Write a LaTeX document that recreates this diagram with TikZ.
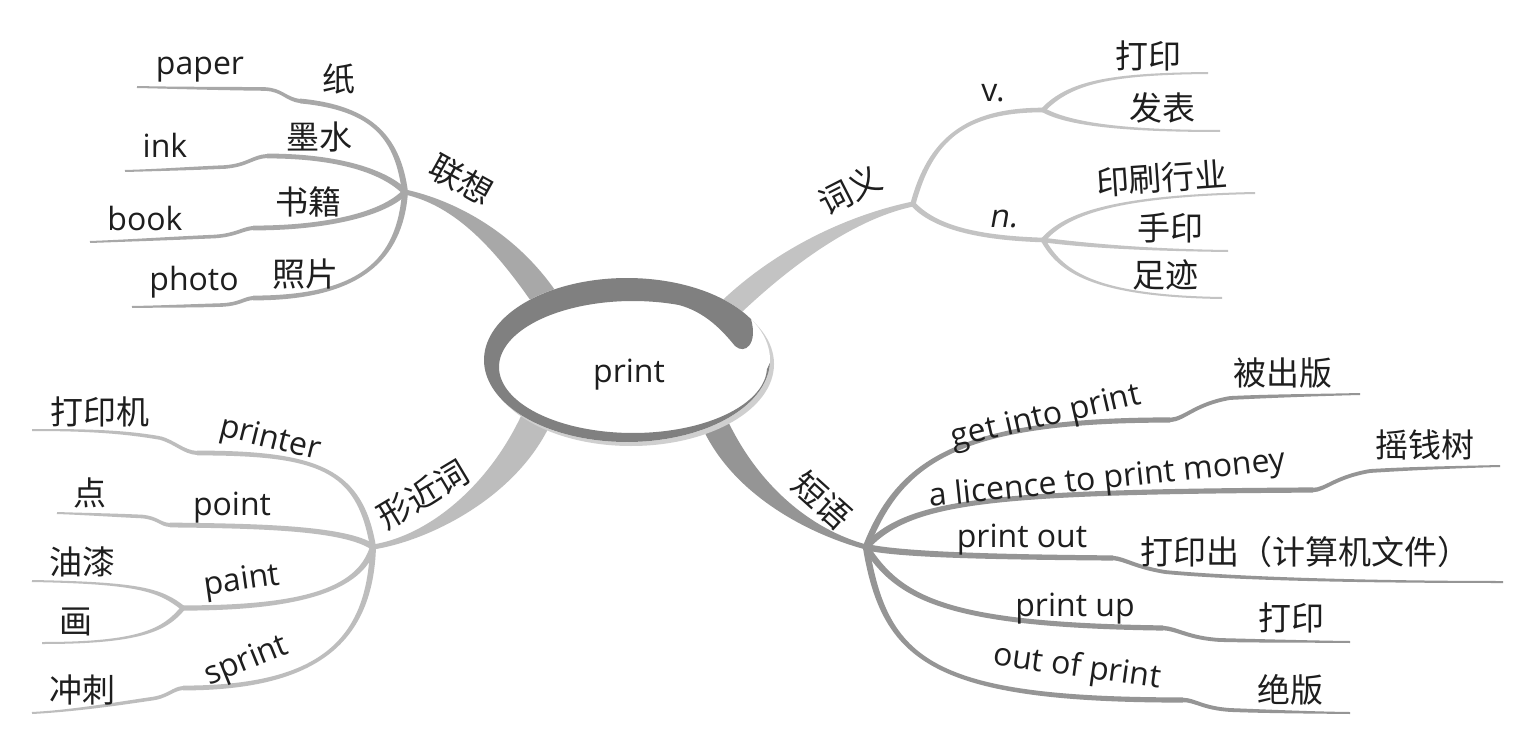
\documentclass[tikz,border=0pt]{standalone}
\usepackage{fontspec}
\setmainfont{Open Sans}
\newfontfamily\cjk{Noto Sans CJK SC}
\newfontfamily\slantfont[FakeSlant=0.18]{Open Sans}
\usetikzlibrary{calc}
\definecolor{txt}{HTML}{1E1E1E}
\definecolor{ringc}{HTML}{808080}
\definecolor{tlc}{HTML}{A8A8A8}
\definecolor{trc}{HTML}{C3C3C3}
\definecolor{blc}{HTML}{BDBDBD}
\definecolor{brc}{HTML}{959595}
\definecolor{lipc}{HTML}{CFCFCF}
% tapered cubic: colour, P0, P1, P2, P3, half width at P0, half width at P3
\newcommand\taper[7]{%
  \fill[#1] ($(#2)!#6!90:(#3)$) .. controls ($(#3)!#6!-90:(#2)$) and ($(#4)!#7!90:(#5)$) .. ($(#5)!#7!-90:(#4)$)
   -- ($(#5)!#7!90:(#4)$) .. controls ($(#4)!#7!-90:(#5)$) and ($(#3)!#6!90:(#2)$) .. ($(#2)!#6!-90:(#3)$) -- cycle;}
\begin{document}
\begin{tikzpicture}[x=1pt,y=-1pt,
  en/.style={font=\fontsize{32}{32}\selectfont, text=txt, inner sep=0pt},
  zh/.style={font=\cjk\fontsize{33}{33}\selectfont, text=txt, inner sep=0pt}]
\useasboundingbox (0,0) rectangle (1525,746);
\fill[white] (0,0) rectangle (1525,746);
% hubs
\coordinate (H1) at (405,192);
\coordinate (H2) at (913,204);
\coordinate (H3) at (373,547);
\coordinate (H4) at (866,547);
\coordinate (V) at (1043,110);
\coordinate (N) at (1043,240);
\coordinate (P) at (183,608);
% main branches
\taper{tlc}{H1}{455,203}{505,240}{546,300}{2.5pt}{13pt}
\taper{trc}{H2}{860,215}{790,250}{726,312}{2.5pt}{11pt}
\taper{blc}{H3}{430,538}{505,490}{538,415}{2.5pt}{15pt}
\taper{brc}{H4}{810,532}{745,490}{714,422}{2.5pt}{13pt}
% --- top left children
\taper{tlc}{H1}{398,140}{375,108}{300,101}{3pt}{2.4pt}
\taper{tlc}{300,101}{285,99}{283,90}{265,89}{2pt}{1.8pt}
\taper{tlc}{265,89}{220,88.5}{180,88}{137,87}{1.8pt}{1pt}
\taper{tlc}{H1}{385,172}{340,156}{267,156}{3pt}{2.4pt}
\taper{tlc}{267,156}{252,157}{248,165}{225,167}{2pt}{1.8pt}
\taper{tlc}{225,167}{190,168.5}{160,170}{125,171}{1.8pt}{1pt}
\taper{tlc}{H1}{385,213}{330,228}{253,228}{3pt}{2.4pt}
\taper{tlc}{253,228}{242,229}{236,235}{215,236.5}{2pt}{1.8pt}
\taper{tlc}{215,236.5}{170,238.5}{130,240.5}{90,242}{1.8pt}{1pt}
\taper{tlc}{H1}{400,260}{360,298}{253,298}{3pt}{2.4pt}
\taper{tlc}{253,298}{243,299}{240,304}{222,305}{2pt}{1.8pt}
\taper{tlc}{222,305}{190,306}{160,306.5}{132,307}{1.8pt}{1pt}
% --- top right children
\taper{trc}{H2}{930,140}{965,110}{V}{2.6pt}{2.3pt}
\taper{trc}{V}{1070,82}{1110,74}{1208,73}{2.3pt}{1pt}
\taper{trc}{V}{1065,122}{1110,131}{1220,131}{2.3pt}{1pt}
\taper{trc}{H2}{935,228}{980,238}{N}{2.6pt}{2.3pt}
\taper{trc}{N}{1065,215}{1110,196}{1255,193}{2.3pt}{1pt}
\taper{trc}{N}{1090,246}{1150,250}{1228,251}{2.3pt}{1pt}
\taper{trc}{N}{1060,270}{1090,296}{1222,298}{2.3pt}{1pt}
% --- bottom left children
\taper{blc}{H3}{360,470}{320,453}{197,453}{3pt}{2.4pt}
\taper{blc}{197,453}{183,452}{175,442}{160,438}{2pt}{1.8pt}
\taper{blc}{160,438}{120,431}{80,430}{32,430}{1.8pt}{1pt}
\taper{blc}{H3}{345,528}{260,526}{170,525}{3pt}{2.4pt}
\taper{blc}{170,525}{160,524.5}{158,518}{142,516.5}{2pt}{1.8pt}
\taper{blc}{142,516.5}{110,515}{85,514}{57,513}{1.8pt}{1pt}
\taper{blc}{H3}{360,590}{300,608}{P}{3pt}{2.6pt}
\taper{blc}{P}{160,590}{140,583}{32,581}{2.4pt}{1pt}
\taper{blc}{P}{165,630}{140,643}{42,643}{2.4pt}{1pt}
\taper{blc}{H3}{370,640}{320,688}{183,688}{3pt}{2.4pt}
\taper{blc}{183,688}{172,689}{168,697}{150,699}{2pt}{1.8pt}
\taper{blc}{150,699}{110,705}{70,711}{32,713}{1.8pt}{1pt}
% --- bottom right children
\taper{brc}{H4}{900,460}{960,420}{1170,420}{3.2pt}{2.6pt}
\taper{brc}{1170,420}{1185,419}{1195,404}{1230,398}{2.2pt}{1.9pt}
\taper{brc}{1230,398}{1270,396}{1320,395}{1360,394}{1.9pt}{1pt}
\taper{brc}{H4}{910,500}{990,492}{1313,490}{3.2pt}{2.6pt}
\taper{brc}{1313,490}{1325,490}{1335,477}{1370,471}{2.2pt}{1.9pt}
\taper{brc}{1370,471}{1410,468.5}{1460,467}{1500,466}{1.9pt}{1pt}
\taper{brc}{H4}{900,555}{1000,557}{1113,558}{3.2pt}{2.6pt}
\taper{brc}{1113,558}{1125,559}{1135,567}{1165,572}{2.2pt}{1.9pt}
\taper{brc}{1165,572}{1250,580}{1400,582}{1503,582}{1.9pt}{1pt}
\taper{brc}{H4}{900,600}{950,625}{1163,628}{3.2pt}{2.6pt}
\taper{brc}{1163,628}{1178,629}{1188,638}{1220,640}{2.2pt}{1.9pt}
\taper{brc}{1220,640}{1260,641}{1310,641.5}{1350,642}{1.9pt}{1pt}
\taper{brc}{H4}{885,660}{930,700}{1183,700}{3.2pt}{2.6pt}
\taper{brc}{1183,700}{1195,700}{1202,708}{1230,710}{2.2pt}{1.9pt}
\taper{brc}{1230,710}{1270,711.5}{1310,712.5}{1350,713}{1.9pt}{1pt}
% --- central ring
\fill[lipc] (631,364) ellipse [x radius=143, y radius=82];
\fill[white] (627,360) ellipse [x radius=143, y radius=82];
\fill[ringc] plot[domain=30:358, samples=140] ({627+143*cos(-\x)},{360+82*sin(-\x)})
  -- plot[domain=2:290, samples=140] ({633+134*cos(\x)},{367+66*sin(\x)})
  .. controls (705,312) and (722,330) .. (735,346)
  .. controls (745,355) and (758,344) .. (751,319) -- cycle;
\node[en,anchor=base] (ctr) at (629,382) {print};
% --- labels of main branches
\node[zh,rotate=-29] (lx) at (461,180) {联想};
\node[zh,rotate=27] (cy) at (850,190) {词义};
\node[zh,rotate=31] (xjc) at (423,494) {形近词};
\node[zh,rotate=-42] (dy) at (822,500) {短语};
% --- top left texts
\node[zh] (zhi) at (339,79) {纸};
\node[en,anchor=base] (paper) at (200,75) {paper};
\node[zh] (ms) at (319,137) {墨水};
\node[en,anchor=base] (ink) at (165,158) {ink};
\node[zh] (sj) at (308,202) {书籍};
\node[en,anchor=base] (book) at (145,230) {book};
\node[zh] (zp) at (305,274) {照片};
\node[en,anchor=base] (photo) at (194,290) {photo};
% --- top right texts
\node[en,anchor=base] (vv) at (993,102) {v.};
\node[en,anchor=base,font=\slantfont\fontsize{32}{32}\selectfont] (nn) at (1003,227) {n.};
\node[zh] (dy1) at (1148,56) {打印};
\node[zh] (fb) at (1162,108) {发表};
\node[zh,rotate=4] (ys) at (1162,178) {印刷行业};
\node[zh] (sy) at (1170,228) {手印};
\node[zh] (zj) at (1165,275) {足迹};
% --- bottom left texts
\node[en,rotate=-14] (printer) at (270,440) {printer};
\node[zh] (dyj) at (100,412) {打印机};
\node[en,anchor=base] (point) at (232,515) {point};
\node[zh] (dian) at (90,493) {点};
\node[en,rotate=8] (paint) at (242,582) {paint};
\node[zh] (yq) at (82,562) {油漆};
\node[zh] (hua) at (76,622) {画};
\node[en,rotate=22] (sprint) at (247,662) {sprint};
\node[zh] (cc) at (82,690) {冲刺};
% --- bottom right texts
\node[en,rotate=13] (gip) at (1046,418) {get into print};
\node[zh] (bcb) at (1283,373) {被出版};
\node[en,rotate=6] (lic) at (1107,480) {a licence to print money};
\node[zh] (yqs) at (1425,445) {摇钱树};
\node[en,anchor=base] (po) at (1022,547) {print out};
\node[zh] (dyc) at (1305,552) {打印出（计算机文件）};
\node[en,anchor=base] (pu) at (1075,616) {print up};
\node[zh] (dy2) at (1291,618) {打印};
\node[en,rotate=-8] (oop) at (1077,668) {out of print};
\node[zh] (jb) at (1290,690) {绝版};
\end{tikzpicture}
\end{document}
